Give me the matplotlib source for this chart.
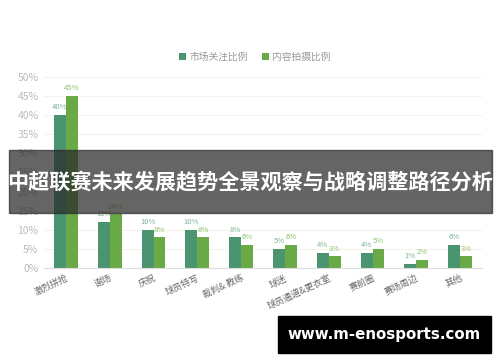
import numpy as np
import matplotlib
matplotlib.use("Agg")
import matplotlib.pyplot as plt
from matplotlib.patches import Rectangle

plt.rcParams['font.family'] = ['Noto Sans CJK SC', 'DejaVu Sans']

# data
categories = ['激烈拼抢', '谢场', '庆祝', '球员特写', '裁判& 教练', '球迷',
              '球员通道&更衣室', '赛前圈', '赛场周边', '其他']
market = [40, 12, 10, 10, 8, 5, 4, 4, 1, 6]
content = [45, 14, 8, 8, 6, 6, 3, 5, 2, 3]
series_names = ['市场关注比例', '内容拍摄比例']
yticks = [0, 5, 10, 15, 20, 25, 30, 35, 40, 45, 50]

c_dark = '#4a9470'
c_light = '#6aaa46'

fig = plt.figure(figsize=(5, 3.62), dpi=100)
ax = fig.add_axes([0.088, 0.26, 0.876, 0.527])

x = np.arange(len(categories))
w = 0.27
b1 = ax.bar(x - w / 2, market, w, color=c_dark, label=series_names[0])
b2 = ax.bar(x + w / 2, content, w, color=c_light, label=series_names[1])

# value labels
for xi, v in zip(x, market):
    ax.text(xi - w / 2, v + 1.0, f'{v}%', ha='center', va='bottom', fontsize=5.5, color='#7fb497')
for xi, v in zip(x, content):
    ax.text(xi + w / 2, v + 1.0, f'{v}%', ha='center', va='bottom', fontsize=5.5, color='#8cc46a')

ax.set_xlim(-0.5, len(categories) - 0.5)
ax.set_ylim(0, 50)
ax.set_yticks(yticks)
ax.set_yticklabels([f'{t}%' for t in yticks], fontsize=7.5, color='#bbbbbb')
ax.set_xticks(x)
ax.set_xticklabels(categories, rotation=25, ha='right', rotation_mode='anchor',
                   fontsize=6.5, color='#666666')
ax.tick_params(length=0, pad=4)
ax.grid(axis='y', color='#f3f3ec', linewidth=0.8)
ax.set_axisbelow(True)
for s in ['top', 'right', 'left']:
    ax.spines[s].set_visible(False)
ax.spines['bottom'].set_color('#dddddd')

fig.legend(handles=[b1, b2], labels=series_names, loc='center', bbox_to_anchor=(0.51, 0.843),
           ncol=2, frameon=False, fontsize=7, labelcolor='#999999',
           handlelength=0.7, handleheight=0.7, handletextpad=0.3, columnspacing=1.5)

# banner overlay
fig.patches.append(Rectangle((9 / 500, 1 - 213 / 362), 483 / 500, 63 / 362,
                             transform=fig.transFigure, color='#2a2a2a', alpha=0.72, zorder=5))
fig.text(0.5, 1 - 183 / 362, '中超联赛未来发展趋势全景观察与战略调整路径分析', ha='center', va='center',
         fontsize=15.2, fontweight='bold', color='white', zorder=6)

# watermark box
fig.patches.append(Rectangle((278 / 500, 1 - 353 / 362), 213 / 500, 37 / 362,
                             transform=fig.transFigure, color='black', zorder=5))
fig.text(384 / 500, 1 - 335 / 362, 'www.m-enosports.com', ha='center', va='center',
         fontsize=10.8, fontweight='bold', color='white', family='DejaVu Sans', zorder=6)

fig.savefig('out.png', dpi=100)
